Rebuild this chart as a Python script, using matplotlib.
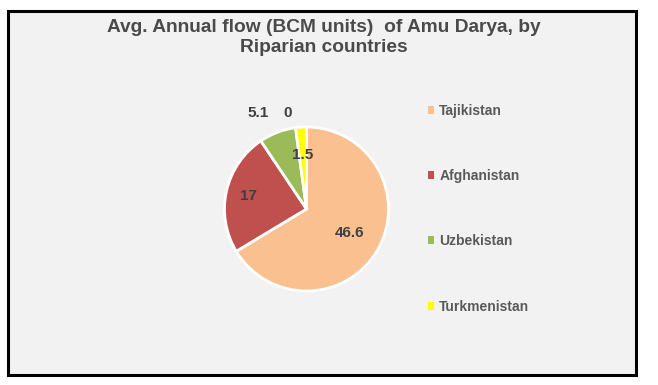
import numpy as np
import matplotlib
matplotlib.use('Agg')
import matplotlib.pyplot as plt
from matplotlib.patches import Rectangle

countries = ['Tajikistan', 'Afghanistan', 'Uzbekistan', 'Turkmenistan']
flows = [46.6, 17, 5.1, 1.5]
labels = ['46.6', '17', '5.1', '1.5']
extra_label = '0'   # zero-valued point shown by Excel with no slice
colors = ['#FAC090', '#C0504D', '#9BBB59', '#FFFF00']

title = 'Avg. Annual flow (BCM units)  of Amu Darya, by\nRiparian countries'

fig = plt.figure(figsize=(6.58, 3.85), dpi=100)
fig.patch.set_facecolor('white')

# chart area with black frame
fig.patches.append(Rectangle((8 / 658, 1 - 375 / 385), 628 / 658, 364 / 385,
                             transform=fig.transFigure, facecolor='#F2F2F2',
                             edgecolor='black', linewidth=2.2, zorder=-5))

fig.text(324 / 658, 1 - 37.5 / 385, title, ha='center', va='center', fontsize=13.8,
         fontweight='bold', color='#4a4a4a', linespacing=1.2,
         family=['Liberation Sans', 'DejaVu Sans'])

ax = fig.add_axes([224.5 / 658, 94 / 385, 164 / 658, 164 / 385])
ax.set_zorder(3)
ax.patch.set_alpha(0)
wedges, _ = ax.pie(flows, colors=colors, startangle=90, counterclock=False,
                   wedgeprops=dict(edgecolor='white', linewidth=2))
ax.set_xlim(-1, 1)
ax.set_ylim(-1, 1)
ax.set_aspect('equal')
ax.axis('off')

lab_font = dict(fontsize=11, fontweight='bold', color='#404040',
                family=['Liberation Sans', 'DejaVu Sans'], ha='center', va='center')
dist = [0.6, 0.72, None, 0.66]
for w, lab, d in zip(wedges, labels, dist):
    ang = np.deg2rad((w.theta1 + w.theta2) / 2)
    if d is None:
        # best-fit label pushed outside the slice
        ax.text(-0.59, 1.17, lab, **lab_font)
    else:
        ax.text(d * np.cos(ang), d * np.sin(ang), lab, **lab_font)
ax.text(-0.23, 1.17, extra_label, **lab_font)

leg = fig.legend(wedges, countries, loc='upper left',
                 bbox_to_anchor=(415 / 658, 1 - 91 / 385), frameon=False,
                 handlelength=0.5, handleheight=0.5, handletextpad=0.35,
                 labelspacing=3.7, prop=dict(size=10, weight='bold',
                                              family=['Liberation Sans', 'DejaVu Sans']))
for t in leg.get_texts():
    t.set_color('#595959')
for h in leg.legend_handles:
    h.set_edgecolor('none')

fig.savefig('out.png', dpi=100, facecolor='white')
